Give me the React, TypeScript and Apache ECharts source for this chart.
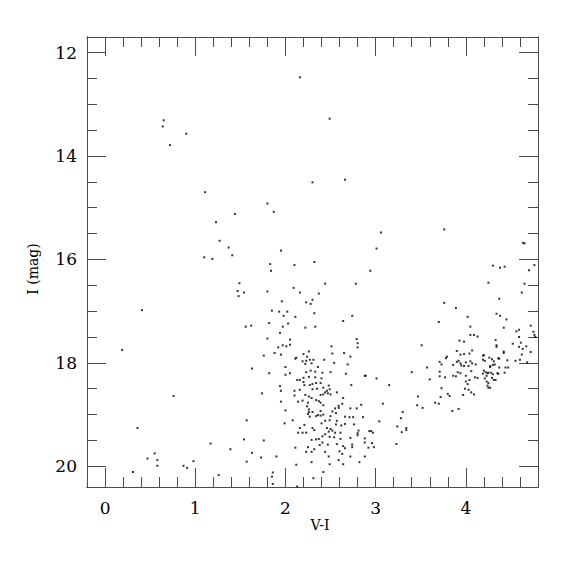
import React, { useEffect, useRef } from 'react';
import * as echarts from 'echarts';

// Axis ranges and ticks
const X_MIN = -0.2;
const X_MAX = 4.8;
const Y_MIN = 11.7;
const Y_MAX = 20.4;
const xMajorTicks = [0, 1, 2, 3, 4];
const xMinorTicks = [0.2, 0.4, 0.6, 0.8, 1.2, 1.4, 1.6, 1.8, 2.2, 2.4, 2.6, 2.8, 3.2, 3.4, 3.6, 3.8, 4.2, 4.4, 4.6];
const yMajorTicks = [12, 14, 16, 18, 20];
const yMinorTicks = [12.5, 13, 13.5, 14.5, 15, 15.5, 16.5, 17, 17.5, 18.5, 19, 19.5];
const xTitle = 'V-I';
const yTitle = 'I (mag)';

// [V-I, I] pairs
const blueSparse = [
  [0.65, 13.31], [0.64, 13.43], [0.9, 13.57], [0.72, 13.79], [1.11, 14.7], [1.44, 15.12], [1.23, 15.28],
  [1.27, 15.64], [1.37, 15.77], [1.41, 15.92], [1.1, 15.96], [1.19, 15.99], [1.49, 16.46], [1.47, 16.61],
  [1.48, 16.71], [1.54, 16.64], [0.41, 16.98], [0.19, 17.75], [0.76, 18.64], [0.36, 19.26],
  [1.17, 19.56], [1.39, 19.67], [1.57, 19.11], [1.54, 19.48], [0.47, 19.85], [0.55, 19.75], [0.58, 19.88],
  [0.58, 19.99], [0.87, 19.99], [0.91, 20.03], [0.98, 19.9], [0.31, 20.11], [1.26, 20.17], [1.57, 19.91],
  [1.56, 17.3], [1.62, 17.28],
];

const brightStars = [
  [2.16, 12.48], [2.49, 13.28], [2.3, 14.51], [2.66, 14.46], [1.8, 14.92], [1.87, 15.08],
  [3.06, 15.48], [3.01, 15.79], [2.94, 16.22], [3.76, 15.42],
];

const giantUpper = [
  [1.95, 15.83], [1.83, 16.09], [1.84, 16.22], [2.1, 16.11], [2.32, 16.05], [1.8, 16.62], [2.09, 16.55],
  [2.16, 16.64], [2.44, 16.47], [2.78, 16.47], [2.37, 16.66], [2.3, 16.78], [2.23, 16.83], [2.28, 16.86],
  [1.96, 16.81], [1.85, 16.99], [1.93, 17.01], [2.02, 17.01], [1.98, 17.09], [2.11, 17.11], [2.32, 17.04],
  [2.64, 17.19], [2.74, 17.09], [1.82, 17.23], [2.03, 17.24], [1.97, 17.3], [2.22, 17.32], [2.33, 17.3],
];

const giantMiddle = [
  [1.94, 17.42], [1.8, 17.53], [2.05, 17.55], [1.92, 17.7], [1.97, 17.66], [2.01, 17.68], [2.05, 17.65],
  [1.88, 17.81], [1.95, 17.84], [1.76, 17.86], [2.12, 17.9], [2.11, 17.92], [2.2, 17.83], [2.26, 17.78],
  [2.24, 17.88], [2.19, 17.97], [2.23, 17.96], [2.27, 17.94], [2.31, 17.94], [2.29, 18.01], [2.22, 18.02],
  [2.0, 18.08], [2.36, 18.08], [1.63, 18.11], [1.82, 18.2], [2.0, 18.23], [2.05, 18.2], [2.23, 18.18],
  [2.28, 18.15], [2.33, 18.17], [2.2, 18.29], [2.26, 18.27], [2.33, 18.28], [2.13, 18.33], [2.16, 18.33],
  [2.2, 18.37], [1.94, 18.45], [2.21, 18.43], [2.27, 18.43], [2.3, 18.41], [2.34, 18.39], [1.95, 18.54],
  [2.1, 18.54], [2.16, 18.52], [2.3, 18.51], [2.35, 18.5], [1.74, 18.59], [2.1, 18.63], [2.22, 18.62],
  [2.26, 18.65], [2.29, 18.68], [1.95, 18.75], [2.14, 18.75], [2.19, 18.73], [2.25, 18.77], [2.34, 18.72],
  [2.37, 18.74], [2.24, 18.84], [2.26, 18.9],
  [2.79, 17.54], [2.8, 17.62], [2.8, 17.7], [2.51, 17.68], [2.52, 17.82], [2.65, 17.81], [2.72, 17.88],
  [2.43, 17.94], [2.54, 18.0], [2.69, 18.03], [2.5, 18.18], [2.41, 18.19], [2.67, 18.21], [2.4, 18.3],
  [2.39, 18.39], [2.48, 18.44], [2.42, 18.48], [2.49, 18.51], [2.46, 18.54], [2.44, 18.57], [2.73, 18.43],
  [2.57, 18.57], [2.39, 18.62], [2.42, 18.61], [2.47, 18.59], [2.5, 18.61], [2.64, 18.68], [2.39, 18.77],
  [2.63, 18.79],
];

const giantFaint = [
  [2.0, 18.92], [2.3, 18.95], [2.26, 18.95], [2.25, 18.99], [2.27, 19.04], [2.34, 19.03], [2.36, 19.01],
  [2.39, 18.93], [2.08, 19.11], [1.99, 19.17], [2.21, 19.2], [2.16, 19.26], [2.3, 19.26], [2.32, 19.3],
  [2.14, 19.35], [2.19, 19.35], [2.23, 19.35], [1.76, 19.5], [2.29, 19.49], [2.34, 19.48], [2.37, 19.47],
  [2.38, 19.59], [2.11, 19.64], [2.25, 19.63], [2.32, 19.67], [2.23, 19.72], [2.29, 19.72], [1.63, 19.74],
  [1.73, 19.83], [1.9, 19.81], [2.29, 19.92], [2.12, 19.97], [1.86, 20.12], [1.85, 20.2], [1.86, 20.34],
  [2.31, 20.23], [2.13, 20.39],
  [2.42, 18.82], [2.55, 18.88], [2.59, 18.87], [2.52, 18.94], [2.56, 18.97], [2.59, 18.83], [2.72, 18.88],
  [2.79, 18.88], [2.84, 18.81], [2.39, 19.02], [2.42, 19.0], [2.5, 19.03], [2.49, 19.11], [2.44, 19.12],
  [2.4, 19.17], [2.57, 19.12], [2.56, 19.19], [2.62, 19.21], [2.66, 19.04], [2.71, 19.05], [2.75, 19.05],
  [2.86, 19.05], [3.04, 19.13], [2.76, 19.19], [2.66, 19.18], [2.46, 19.26], [2.5, 19.28], [2.48, 19.33],
  [2.52, 19.31], [2.55, 19.35], [2.61, 19.35], [2.41, 19.42], [2.44, 19.38], [2.49, 19.43], [2.54, 19.44],
  [2.61, 19.47], [2.72, 19.45], [2.8, 19.36], [2.8, 19.4], [2.81, 19.31], [2.88, 19.46], [2.93, 19.32],
  [2.95, 19.32], [2.97, 19.35], [2.96, 19.55], [2.98, 19.63], [2.41, 19.54], [2.47, 19.58], [2.57, 19.57],
  [2.64, 19.61], [2.66, 19.65], [2.74, 19.58], [2.74, 19.63], [2.88, 19.54], [2.92, 19.64], [2.44, 19.72],
  [2.6, 19.71], [2.63, 19.76], [2.48, 19.81], [2.72, 19.81], [2.88, 19.81], [2.59, 19.88], [2.49, 19.96],
  [2.64, 19.96], [2.82, 19.92], [2.42, 20.11], [3.23, 19.57],
];

const redGroup = [
  [4.635, 15.68], [4.65, 15.69], [4.3, 16.12], [4.38, 16.16], [4.43, 16.14], [4.76, 16.11], [4.7, 16.21],
  [4.25, 16.45], [4.65, 16.47], [4.62, 16.64], [4.37, 16.76], [3.76, 16.84], [3.89, 16.94], [4.02, 17.11],
  [3.7, 17.21], [4.34, 17.05], [4.38, 17.09], [4.45, 17.16], [4.42, 17.32], [4.05, 17.3], [4.05, 17.46],
  [4.09, 17.46], [4.13, 17.49], [3.98, 17.59], [3.93, 17.57], [3.51, 17.66], [4.33, 17.56], [4.34, 17.66],
  [4.34, 17.69], [4.42, 17.78], [4.42, 17.81], [4.52, 17.63], [4.56, 17.39], [4.59, 17.36], [4.59, 17.5],
  [4.61, 17.61], [4.59, 17.69], [4.63, 17.73], [4.67, 17.68], [4.72, 17.28], [4.75, 17.4], [4.76, 17.46],
  [4.77, 17.5], [4.72, 17.79], [4.62, 17.84], [4.6, 17.94], [4.68, 17.99],
  [3.9, 17.77], [3.94, 17.84], [3.98, 17.83], [4.04, 17.82], [4.07, 17.76], [3.79, 17.88], [3.78, 17.91],
  [3.73, 18.03], [3.71, 17.98], [3.86, 18.04], [3.9, 17.98], [3.92, 17.96], [3.94, 18.01], [3.95, 18.05],
  [3.98, 18.06], [4.0, 17.99], [4.03, 18.06], [4.05, 17.97], [4.07, 18.01], [4.11, 18.03], [4.19, 17.86],
  [4.2, 17.85], [4.19, 17.94], [4.21, 17.96], [4.26, 17.9], [4.29, 17.93], [4.31, 17.97], [4.3, 18.04],
  [4.32, 18.03], [4.36, 17.91], [4.37, 17.92], [4.37, 18.09], [4.44, 18.09], [4.46, 17.95], [4.47, 18.09],
  [4.55, 17.96],
  [3.71, 18.17], [3.71, 18.26], [3.77, 18.28], [3.86, 18.25], [3.91, 18.18], [3.89, 18.26], [3.94, 18.2],
  [4.0, 18.25], [4.0, 18.36], [4.02, 18.41], [4.04, 18.33], [4.06, 18.16], [4.1, 18.28], [4.13, 18.29],
  [4.19, 18.21], [4.21, 18.3], [4.2, 18.15], [4.22, 18.18], [4.23, 18.25], [4.24, 18.2], [4.25, 18.19],
  [4.27, 18.08], [4.27, 18.06], [4.28, 18.19], [4.29, 18.29], [4.3, 18.22], [4.35, 18.2], [4.36, 18.21],
  [4.43, 18.19], [4.23, 18.36], [4.25, 18.39], [4.27, 18.48], [4.25, 18.48], [4.24, 18.44], [4.31, 18.33],
  [4.33, 18.33],
  [3.73, 18.49], [3.8, 18.6], [3.82, 18.64], [3.72, 18.66], [3.99, 18.5], [4.03, 18.52], [4.06, 18.57],
  [4.09, 18.61], [3.97, 18.62], [3.66, 18.77], [3.7, 18.79], [3.85, 18.93], [3.92, 18.89], [3.47, 18.65],
  [3.52, 18.87], [3.46, 18.82], [3.57, 18.09], [3.6, 18.32], [3.4, 18.18], [2.88, 18.25], [2.89, 18.25],
  [3.01, 18.3], [3.15, 18.43], [3.08, 18.79], [3.24, 19.23], [3.28, 19.07], [3.3, 18.95], [3.29, 19.34],
  [3.34, 19.26], [3.34, 19.3],
];

const AXIS_COLOR = '#4a4a4a';
const FONT = 'DejaVu Serif';

export default function App() {
  const ref = useRef<HTMLDivElement>(null);

  useEffect(() => {
    if (!ref.current) return;
    const chart = echarts.init(ref.current, null, { renderer: 'svg' });

    const points = [...blueSparse, ...brightStars, ...giantUpper, ...giantMiddle, ...giantFaint, ...redGroup];

    const axisLine = { show: true, onZero: false, lineStyle: { color: AXIS_COLOR, width: 1 } };
    const xBase = { type: 'value', min: X_MIN, max: X_MAX, splitLine: { show: false }, axisLine };
    const yBase = { type: 'value', min: Y_MIN, max: Y_MAX, inverse: true, splitLine: { show: false }, axisLine };
    const tick = (values: number[], length: number) => ({
      show: true,
      inside: true,
      length,
      customValues: values,
      lineStyle: { color: AXIS_COLOR, width: 1 },
    });
    const labelStyle = { fontSize: 17, fontFamily: FONT, fontWeight: 'normal', color: '#000' };

    const option = {
      animation: false,
      backgroundColor: '#fff',
      textStyle: { fontFamily: FONT, color: '#000' },
      grid: { left: 87, top: 37, width: 451, height: 450, containLabel: false },
      graphic: [
        {
          type: 'text',
          x: 320,
          y: 525,
          style: {
            text: xTitle,
            fontSize: 14,
            fontFamily: FONT,
            fill: '#000',
            align: 'center',
            verticalAlign: 'middle',
          },
        },
        {
          type: 'text',
          x: 33,
          y: 269,
          rotation: Math.PI / 2,
          style: {
            text: yTitle,
            fontSize: 14,
            fontFamily: FONT,
            fill: '#000',
            align: 'center',
            verticalAlign: 'middle',
          },
        },
      ],
      xAxis: [
        {
          ...xBase,
          position: 'bottom',
          axisTick: tick(xMajorTicks, 19),
          axisLabel: { show: true, customValues: xMajorTicks, margin: 12, ...labelStyle },
        },
        { ...xBase, position: 'bottom', axisTick: tick(xMinorTicks, 10), axisLabel: { show: false } },
        { ...xBase, position: 'top', axisTick: tick(xMajorTicks, 19), axisLabel: { show: false } },
        { ...xBase, position: 'top', axisTick: tick(xMinorTicks, 10), axisLabel: { show: false } },
      ],
      yAxis: [
        {
          ...yBase,
          position: 'left',
          axisTick: tick(yMajorTicks, 19),
          axisLabel: { show: true, customValues: yMajorTicks, margin: 10, ...labelStyle },
        },
        { ...yBase, position: 'left', axisTick: tick(yMinorTicks, 10), axisLabel: { show: false } },
        { ...yBase, position: 'right', axisTick: tick(yMajorTicks, 19), axisLabel: { show: false } },
        { ...yBase, position: 'right', axisTick: tick(yMinorTicks, 10), axisLabel: { show: false } },
      ],
      series: [
        {
          type: 'scatter',
          xAxisIndex: 0,
          yAxisIndex: 0,
          data: points,
          symbol: 'rect',
          symbolSize: 2,
          itemStyle: { color: '#000' },
          silent: true,
        },
      ],
    };

    chart.setOption(option as any);
    return () => chart.dispose();
  }, []);

  return (
    <div
      ref={ref}
      style={{ position: 'absolute', left: 0, top: 0, width: 575, height: 575, background: '#fff' }}
    />
  );
}
